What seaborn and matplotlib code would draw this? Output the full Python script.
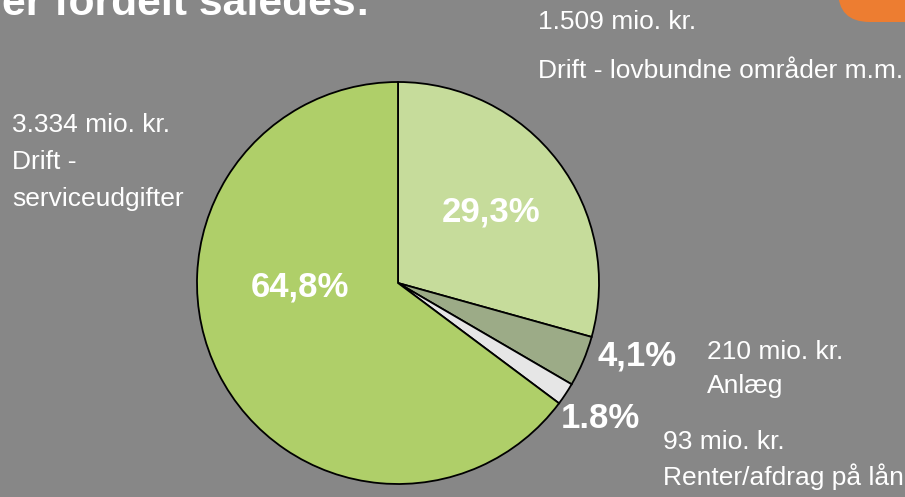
import matplotlib
matplotlib.use("Agg")
import matplotlib.pyplot as plt
import seaborn as sns
from matplotlib.patches import FancyBboxPatch
from matplotlib import font_manager

# data (mio. kr.)
categories = ["Drift - lovbundne områder m.m.", "Anlæg", "Renter/afdrag på lån", "Drift - serviceudgifter"]
amounts = [1509, 210, 93, 3334]
amount_labels = ["1.509 mio. kr.", "210 mio. kr.", "93 mio. kr.", "3.334 mio. kr."]
pct_labels = ["29,3%", "4,1%", "1.8%", "64,8%"]
colors = ["#c6dc9b", "#9cab87", "#e6e6e6", "#afcf69"]

bg = "#878787"
W, H = 905, 497

sns.set_theme(style="white")
names = {f.name for f in font_manager.fontManager.ttflist}
narrow = "Liberation Sans Narrow" if "Liberation Sans Narrow" in names else "Liberation Sans"
plt.rcParams["font.family"] = [narrow, "DejaVu Sans"]

fig = plt.figure(figsize=(W / 100, H / 100), dpi=100)
fig.patch.set_facecolor(bg)

# pie: centre (398, 283), radius 201 px
cx, cy, r = 398, 283, 201
ax = fig.add_axes([(cx - r) / W, (H - cy - r) / H, 2 * r / W, 2 * r / H])
wedges, _ = ax.pie(amounts, colors=colors, startangle=90, counterclock=False,
                   wedgeprops=dict(edgecolor="black", linewidth=1.3))
for w in wedges:
    w.set_clip_on(False)
ax.set_xlim(-1, 1)
ax.set_ylim(-1, 1)
ax.axis("off")


def px(x, y):
    return x / W, 1 - y / H


# title (cut off at the top, as in the slide)
fig.text(*px(2, 15), "er fordelt således:", color="white", fontsize=30.8,
         fontweight="bold", family=["Liberation Sans", "DejaVu Sans"], va="baseline", ha="left")

# orange corner tab
tab = FancyBboxPatch(px(838, 22), 0.2, 0.2, boxstyle="round,pad=0,rounding_size=0.035",
                     transform=fig.transFigure, facecolor="#ed7d31", edgecolor="none",
                     mutation_aspect=W / H)
fig.patches.append(tab)

lab_kw = dict(color="white", fontsize=19, ha="left", va="center")
# category labels
fig.text(*px(538, 22), amount_labels[0], **lab_kw)
fig.text(*px(538, 71), categories[0], **lab_kw)
fig.text(*px(707, 352), amount_labels[1], **lab_kw)
fig.text(*px(707, 386), categories[1], **lab_kw)
fig.text(*px(663, 442), amount_labels[2], **lab_kw)
fig.text(*px(663, 477), categories[2], **lab_kw)
fig.text(*px(12, 125), amount_labels[3], **lab_kw)
fig.text(*px(12, 162), "Drift -", **lab_kw)
fig.text(*px(12, 199), "serviceudgifter", **lab_kw)

# percentages
pct_pos = [(491, 212), (637, 356), (600, 418), (300, 287)]
for lab, (x, y) in zip(pct_labels, pct_pos):
    fig.text(*px(x, y), lab, color="white", fontsize=25, fontweight="bold",
             ha="center", va="center")

fig.savefig("out.png", dpi=100, facecolor=bg)
